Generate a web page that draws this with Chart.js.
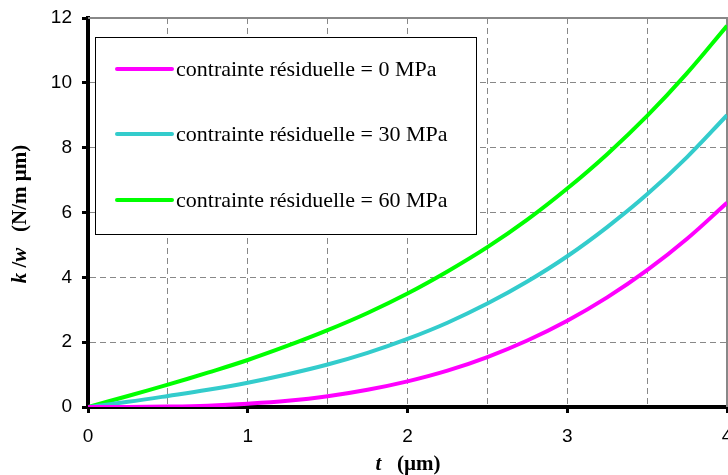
<!DOCTYPE html>
<html>
<head>
<meta charset="utf-8">
<script src="https://cdn.jsdelivr.net/npm/chart.js@4/dist/chart.umd.min.js"></script>
<style>
  html, body { margin: 0; padding: 0; background: #fff; }
  #wrap { width: 728px; height: 475px; }
</style>
</head>
<body>
<div id="wrap"><canvas id="myChart" width="728" height="475"></canvas></div>
<script>
// epaisseur t (µm)
const thickness = [0, 0.25, 0.5, 0.75, 1, 1.25, 1.5, 1.75, 2, 2.25, 2.5, 2.75, 3, 3.25, 3.5, 3.75, 4];
// k/w (N/m µm)
const stress0 = [0, 0.002, 0.012, 0.04, 0.10, 0.19, 0.33, 0.53, 0.79, 1.12, 1.54, 2.05, 2.66, 3.38, 4.22, 5.19, 6.3];
const stress30 = [0, 0.16, 0.34, 0.53, 0.75, 1.01, 1.31, 1.67, 2.1, 2.6, 3.19, 3.87, 4.65, 5.55, 6.56, 7.71, 9.0];
const stress60 = [0, 0.34, 0.69, 1.06, 1.45, 1.89, 2.37, 2.9, 3.5, 4.18, 4.93, 5.78, 6.74, 7.8, 8.98, 10.3, 11.76];
const seriesLabels = ['contrainte résiduelle = 0 MPa', 'contrainte résiduelle = 30 MPa', 'contrainte résiduelle = 60 MPa'];
const seriesColors = ['#ff00ff', '#33cccc', '#00ff00'];

function points(vals) {
    return thickness.map((t, i) => ({x: t, y: vals[i]}));
}

// texte avec morceaux italiques / droits
function drawParts(ctx, parts, x, y) {
    let total = 0;
    parts.forEach(p => {
        ctx.font = p[1];
        total += ctx.measureText(p[0]).width;
    });
    let cx = x - total / 2;
    parts.forEach(p => {
        ctx.font = p[1];
        ctx.fillText(p[0], cx, y);
        cx += ctx.measureText(p[0]).width;
    });
}

const extras = {
    id: 'extras',
    beforeDatasetsDraw(chart) {
        const ctx = chart.ctx;
        const a = chart.chartArea;
        ctx.save();
        ctx.strokeStyle = '#888888';
        ctx.lineWidth = 2;
        ctx.beginPath();
        ctx.moveTo(a.left, a.top);
        ctx.lineTo(a.right, a.top);
        ctx.lineTo(a.right, a.bottom);
        ctx.stroke();
        ctx.restore();
    },
    afterDraw(chart) {
        const ctx = chart.ctx;
        ctx.save();
        // legende
        ctx.fillStyle = '#fff';
        ctx.fillRect(95, 37, 381, 197);
        ctx.strokeStyle = '#000';
        ctx.lineWidth = 1;
        ctx.strokeRect(95.5, 37.5, 381, 197);
        const rows = [69, 134, 200];
        ctx.lineCap = 'round';
        ctx.textBaseline = 'middle';
        ctx.textAlign = 'left';
        chart.data.datasets.forEach((ds, i) => {
            ctx.strokeStyle = ds.borderColor;
            ctx.lineWidth = 4;
            ctx.beginPath();
            ctx.moveTo(117, rows[i]);
            ctx.lineTo(172, rows[i]);
            ctx.stroke();
            ctx.fillStyle = '#000';
            ctx.font = '22px "Liberation Serif", "Times New Roman", serif';
            ctx.fillText(ds.label, 176, rows[i] + 1);
        });

        // titres des axes
        const bold = 'bold 21px "Liberation Serif", "Times New Roman", serif';
        const boldIt = 'italic bold 21px "Liberation Serif", "Times New Roman", serif';
        ctx.fillStyle = '#000';
        ctx.textBaseline = 'middle';
        drawParts(ctx, [['t', boldIt], ['   (µm)', bold]], 408, 465);
        ctx.translate(21, 214);
        ctx.rotate(-Math.PI / 2);
        drawParts(ctx, [['k', boldIt], [' /', bold], ['w', boldIt], ['   (N/m µm)', bold]], 0, 0);
        ctx.restore();
    }
};

const tickFont = {family: '"Liberation Sans", Arial, sans-serif', size: 19};

const ctx = document.getElementById('myChart').getContext('2d');
const myChart = new Chart(ctx, {
    type: 'line',
    data: {
        datasets: [stress0, stress30, stress60].map((vals, i) => ({
            label: seriesLabels[i],
            data: points(vals),
            borderColor: seriesColors[i],
            backgroundColor: seriesColors[i],
            borderWidth: 4,
            pointRadius: 0,
            tension: 0.4,
            fill: false
        }))
    },
    options: {
        responsive: false,
        animation: false,
        layout: {padding: {top: 18, right: 1, left: 0, bottom: 0}},
        plugins: {
            legend: {display: false},
            tooltip: {enabled: false}
        },
        scales: {
            x: {
                type: 'linear',
                min: 0,
                max: 4,
                afterFit: s => { s.height = 68; s.paddingRight = 0; s.paddingLeft = 0; },
                ticks: {
                    stepSize: 0.5,
                    autoSkip: false,
                    maxRotation: 0,
                    color: '#000',
                    font: tickFont,
                    padding: 12,
                    callback: v => (v % 1 === 0 ? v : '')
                },
                grid: {
                    color: c => (c.tick && (c.tick.value === 0 || c.tick.value === 4) ? 'rgba(0,0,0,0)' : '#888888'),
                    lineWidth: 1,
                    tickLength: 6,
                    tickWidth: 3,
                    tickColor: c => (c.tick && c.tick.value % 1 === 0 ? '#000' : 'rgba(0,0,0,0)')
                },
                border: {color: '#000', width: 4, dash: [6, 4]}
            },
            y: {
                min: 0,
                max: 12,
                afterFit: s => { s.width = 88; s.paddingTop = 0; s.paddingBottom = 0; },
                ticks: {
                    stepSize: 2,
                    color: '#000',
                    font: tickFont,
                    padding: 10
                },
                grid: {
                    color: c => (c.tick && (c.tick.value === 0 || c.tick.value === 12) ? 'rgba(0,0,0,0)' : '#888888'),
                    lineWidth: 1,
                    tickLength: 6,
                    tickWidth: 3,
                    tickColor: '#000'
                },
                border: {color: '#000', width: 4, dash: [6, 4]}
            }
        }
    },
    plugins: [extras]
});
</script>
</body>
</html>
